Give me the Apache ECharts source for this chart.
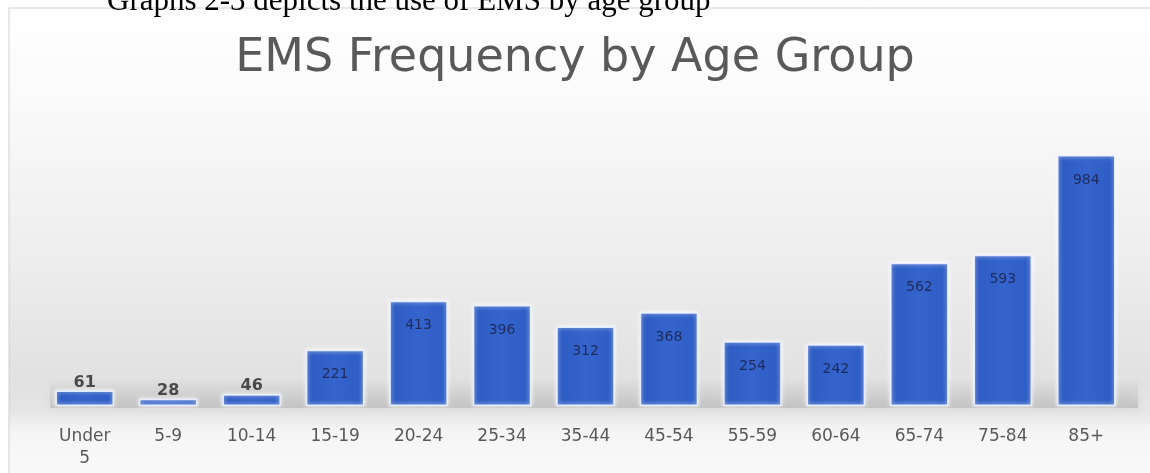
<!DOCTYPE html>
<html>
<head>
<meta charset="utf-8">
<title>EMS Frequency by Age Group</title>
<script src="https://cdn.jsdelivr.net/npm/echarts@6/dist/echarts.min.js"></script>
<style>
  html, body { margin: 0; padding: 0; background: #ffffff; }
  #chart { width: 1150px; height: 473px; }
</style>
</head>
<body>
<div id="chart"></div>
<script>
// Age groups and EMS call counts
const ageGroups = ['Under\n5', '5-9', '10-14', '15-19', '20-24', '25-34', '35-44',
                   '45-54', '55-59', '60-64', '65-74', '75-84', '85+'];
const emsCounts = [61, 28, 46, 221, 413, 396, 312, 368, 254, 242, 562, 593, 984];

const chartTitle = 'EMS Frequency by Age Group';
const captionText = 'Graphs 2-3 depicts the use of EMS by age group';

const sansFont = '"DejaVu Sans", "Open Sans", sans-serif';

// Short bars carry their value above, taller ones just inside the top
const barData = emsCounts.map(v => ({
  value: v,
  label: v < 100
    ? { position: 'top', distance: 0, color: '#4a4a4a', fontSize: 16, fontWeight: 'bold' }
    : { position: 'insideTop', distance: 18, color: '#1f2b5e', fontSize: 14 }
}));

const chart = echarts.init(document.getElementById('chart'), null, { renderer: 'canvas' });

chart.setOption({
  animation: false,
  backgroundColor: '#ffffff',
  title: {
    text: chartTitle,
    left: 'center',
    top: 31,
    textStyle: {
      fontFamily: sansFont,
      fontSize: 46,
      fontWeight: 'normal',
      color: '#595959'
    }
  },
  graphic: [
    // chart area panel with its soft vertical shading
    {
      type: 'rect', z: -10, silent: true,
      shape: { x: 9, y: 8, width: 1160, height: 480 },
      style: {
        fill: new echarts.graphic.LinearGradient(0, 0, 0, 1, [
          { offset: 0.00, color: '#ffffff' },
          { offset: 0.20, color: '#fafafa' },
          { offset: 0.55, color: '#ececec' },
          { offset: 0.78, color: '#e1e1e1' },
          { offset: 0.84, color: '#e5e5e5' },
          { offset: 0.88, color: '#f5f5f5' },
          { offset: 1.00, color: '#fbfbfb' }
        ]),
        stroke: '#d0d0d0', lineWidth: 1
      }
    },
    // floor shadow beneath the bars
    {
      type: 'rect', z: -9, silent: true,
      shape: { x: 50, y: 378, width: 1088, height: 30 },
      style: {
        fill: new echarts.graphic.LinearGradient(0, 0, 0, 1, [
          { offset: 0, color: 'rgba(195,195,195,0)' },
          { offset: 1, color: 'rgba(180,180,180,0.6)' }
        ]),
        shadowBlur: 8,
        shadowColor: 'rgba(180,180,180,0.5)'
      }
    },
    // document caption above the chart, cut off at the page edge
    {
      type: 'text', z: 10, silent: true,
      style: {
        text: captionText,
        x: 107, y: 2,
        verticalAlign: 'middle',
        font: '31px "Liberation Serif", "DejaVu Serif", serif',
        fill: '#000000'
      }
    }
  ],
  grid: {
    left: 43,
    right: 22,
    top: 100,
    bottom: 67,
    containLabel: false
  },
  xAxis: {
    type: 'category',
    data: ageGroups,
    axisLine: { show: false },
    axisTick: { show: false },
    axisLabel: {
      interval: 0,
      margin: 20,
      fontFamily: sansFont,
      fontSize: 17,
      color: '#595959',
      lineHeight: 22
    }
  },
  yAxis: {
    type: 'value',
    min: 0,
    max: 1200,
    show: false,
    splitLine: { show: false }
  },
  series: [{
    type: 'bar',
    data: barData,
    barCategoryGap: '30%',
    itemStyle: {
      color: new echarts.graphic.LinearGradient(1, 0, 0, 0, [
        { offset: 0, color: '#2d5cc4' },
        { offset: 0.5, color: '#3464cc' },
        { offset: 1, color: '#2d5bc2' }
      ]),
      borderColor: 'rgba(235,242,255,0.9)',
      borderWidth: 1.5,
      shadowColor: 'rgba(255,255,255,0.9)',
      shadowBlur: 4
    },
    label: {
      show: true,
      fontFamily: sansFont
    }
  }]
});
</script>
</body>
</html>
